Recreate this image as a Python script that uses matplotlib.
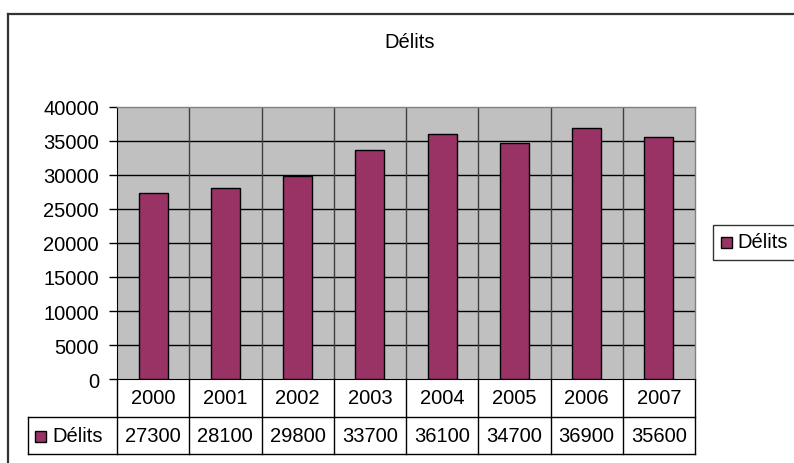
import matplotlib
matplotlib.use("Agg")
import matplotlib.pyplot as plt
from matplotlib.patches import Rectangle
from matplotlib.lines import Line2D
import matplotlib.transforms as mtransforms

plt.rcParams['font.family'] = ['Liberation Sans', 'DejaVu Sans']

title = "Délits"
series_name = "Délits"
years = ["2000", "2001", "2002", "2003", "2004", "2005", "2006", "2007"]
values = [27300, 28100, 29800, 33700, 36100, 34700, 36900, 35600]
yticks = [0, 5000, 10000, 15000, 20000, 25000, 30000, 35000, 40000]

FS = 14.5
W, H = 794, 464
fig = plt.figure(figsize=(W / 100, H / 100), dpi=100)

def fx(px):
    return px / W

def fy(py):
    return 1 - py / H

# outer chart frame (top and left visible)
fig.add_artist(Line2D([fx(8), fx(8)], [fy(15), fy(470)], color='#333333', lw=1.6))
fig.add_artist(Line2D([fx(8), fx(794)], [fy(15), fy(15)], color='#333333', lw=1.6))

L, R, T, B = 117, 695, 108, 380
ax = fig.add_axes([fx(L), fy(B), fx(R - L), (B - T) / H])
ax.set_facecolor('#C0C0C0')
n = len(years)
x = list(range(n))
ax.bar(x, values, width=0.4, color='#993366', edgecolor='black', linewidth=1.0, zorder=3)
ax.set_xlim(-0.5, n - 0.5)
ax.set_ylim(0, 40000)
ax.set_yticks(yticks)
ax.set_yticklabels([str(v) for v in yticks], fontsize=FS)
ax.tick_params(axis='y', length=6, width=1, color='black', pad=7)
ax.set_xticks([])
for v in yticks[1:-1]:
    ax.axhline(v, color='black', lw=1.0, zorder=1)
for i in range(n - 1):
    ax.axvline(i + 0.5, color='#404040', lw=1.0, zorder=1)
for s in ['top', 'right']:
    ax.spines[s].set_color('#808080')
    ax.spines[s].set_linewidth(1.0)
ax.spines['left'].set_color('black')
ax.spines['bottom'].set_color('black')

# data table
tr = mtransforms.blended_transform_factory(ax.transData, fig.transFigure)
row1_top, row1_bot, row2_bot = fy(380), fy(418), fy(455)
lc = '#000000'
for i in range(n + 1):
    xb = i - 0.5
    ax.add_line(Line2D([xb, xb], [row1_top, row2_bot], transform=tr, color=lc, lw=1.0, clip_on=False))
fig.add_artist(Line2D([fx(28), fx(R)], [row1_bot, row1_bot], color=lc, lw=1.0))
fig.add_artist(Line2D([fx(28), fx(R)], [row2_bot, row2_bot], color=lc, lw=1.0))
fig.add_artist(Line2D([fx(28), fx(28)], [row1_bot, row2_bot], color=lc, lw=1.0))
for i, (yr, v) in enumerate(zip(years, values)):
    ax.text(i, (row1_top + row1_bot) / 2, yr, transform=tr, ha='center', va='center', fontsize=FS, clip_on=False)
    ax.text(i, (row1_bot + row2_bot) / 2, str(v), transform=tr, ha='center', va='center', fontsize=FS, clip_on=False)
fig.add_artist(Rectangle((fx(35), fy(443)), fx(11), 11 / H, facecolor='#993366', edgecolor='black', lw=1.0))
fig.text(fx(52), (row1_bot + row2_bot) / 2, series_name, ha='left', va='center', fontsize=FS)

# title
fig.text(fx(410), fy(43), title, ha='center', va='center', fontsize=FS)

# legend
fig.add_artist(Rectangle((fx(713), fy(261)), fx(90), 35 / H, facecolor='white', edgecolor='#333333', lw=1.0))
fig.add_artist(Rectangle((fx(721), fy(249)), fx(11), 11 / H, facecolor='#993366', edgecolor='black', lw=1.0))
fig.text(fx(737), fy(243), series_name, ha='left', va='center', fontsize=FS)

fig.savefig("out.png", dpi=100)
